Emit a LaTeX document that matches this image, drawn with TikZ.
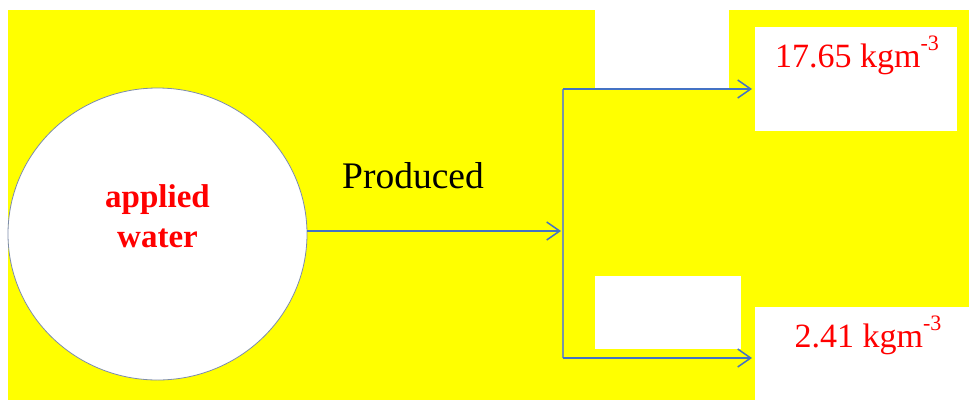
\documentclass[tikz,border=0pt]{standalone}
\usepackage{fontspec}
\setmainfont{Liberation Serif}
\usetikzlibrary{arrows.meta,shapes.geometric}
\definecolor{flowblue}{HTML}{4472C4}
\definecolor{trunkgrey}{RGB}{122,150,165}
\definecolor{rimgrey}{RGB}{125,140,170}
\definecolor{panel}{RGB}{255,255,0}
\newcommand{\kgmunit}{kgm\raisebox{0.48em}{\fontsize{22}{22}\selectfont -3}}
\begin{document}
\begin{tikzpicture}[x=1pt,y=-1pt,
  blank/.style={fill=white,draw=none},
  srcnode/.style={ellipse,fill=white,draw=rimgrey,line width=0.8pt,
    minimum width=299pt,minimum height=292pt,inner sep=0pt},
  srctxt/.style={font=\fontsize{33}{40}\selectfont\bfseries,text=red,
    align=center,inner sep=0pt},
  valtxt/.style={text=red,font=\fontsize{34}{34}\selectfont,inner sep=0pt},
  flow/.style={draw=flowblue,line width=1.5pt,
    -{Straight Barb[length=13pt,width=18pt,line width=1.5pt]}},
  trunk/.style={draw=trunkgrey,line width=1.5pt}]
% canvas
\useasboundingbox (0,0) rectangle (969,400);
\fill[white] (0,0) rectangle (969,400);
\fill[panel] (8,10) rectangle (969,400);
% blank patches on the panel
\path[blank] (595,-1) rectangle (729,88);
\path[blank] (595,276) rectangle (741,349);
% result boxes
\node[blank,anchor=north west,minimum width=202pt,minimum height=104pt,inner sep=0pt]
  (hi) at (755,27) {};
\node[blank,anchor=north west,minimum width=215pt,minimum height=94pt,inner sep=0pt]
  (lo) at (755,307) {};
\node[valtxt,anchor=base] (hitxt) at (857,67) {17.65 \kgmunit};
\node[valtxt,anchor=base] (lotxt) at (868,347) {2.41 \kgmunit};
% source
\node[srcnode] (src) at (157.5,234) {};
\node[srctxt,anchor=base] (srclabel) at (157.5,247) {applied\\water};
\node[font=\fontsize{37.5}{37.5}\selectfont,anchor=base,inner sep=0pt]
  (lab) at (413,188) {Produced};
% branching connector
\coordinate (junc) at (563,231);
\coordinate (jt) at (563,89);
\coordinate (jb) at (563,358);
\draw[trunk] (jt) -- (jb);
\draw[flow] (src.east |- junc) -- ([xshift=-2pt]junc);
\draw[flow] (jt) -- ([xshift=-3pt]jt -| hi.west);
\draw[flow] (jb) -- ([xshift=-3pt]jb -| lo.west);
\end{tikzpicture}
\end{document}
